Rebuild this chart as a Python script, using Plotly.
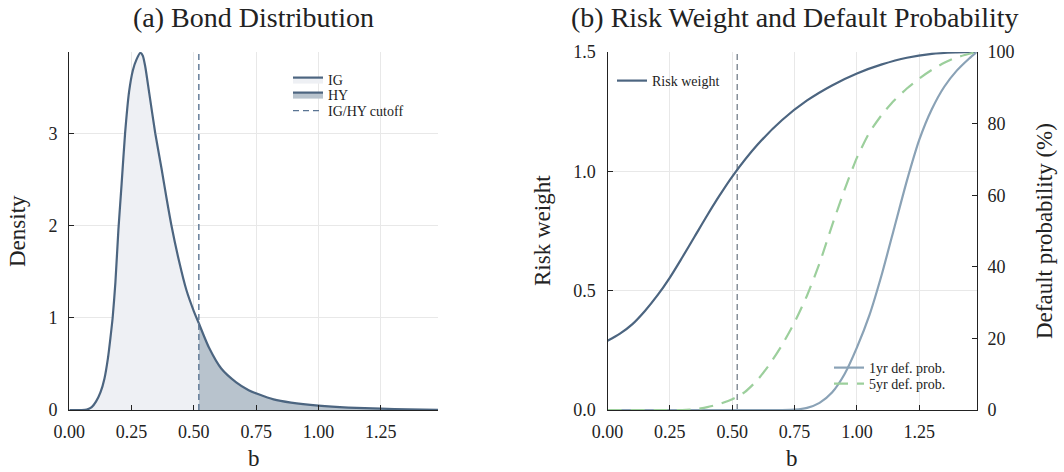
import plotly.graph_objects as go

# ---------------- data ----------------
cutoff = 0.52

bond_b = [0.0, 0.05, 0.07, 0.09, 0.107, 0.125, 0.141, 0.155, 0.165, 0.174, 0.185,
          0.197, 0.21, 0.224, 0.24, 0.255, 0.27, 0.285, 0.295, 0.305, 0.32, 0.345,
          0.37, 0.39, 0.41, 0.44, 0.47, 0.50, 0.52, 0.56, 0.61, 0.67, 0.72, 0.76,
          0.82, 0.89, 1.0, 1.12, 1.25, 1.36, 1.48]
bond_density = [0.0, 0.0, 0.005, 0.03, 0.09, 0.19, 0.34, 0.56, 0.78, 1.0, 1.38,
                1.95, 2.45, 3.0, 3.45, 3.68, 3.80, 3.87, 3.84, 3.72, 3.45, 3.0,
                2.62, 2.3, 2.0, 1.62, 1.3, 1.07, 0.94, 0.68, 0.45, 0.30, 0.215, 0.17,
                0.115, 0.08, 0.047, 0.026, 0.014, 0.007, 0.002]

rw_b = [0.0, 0.05, 0.1, 0.15, 0.2, 0.25, 0.3, 0.35, 0.4, 0.45, 0.5, 0.6, 0.7, 0.8,
        0.9, 1.0, 1.1, 1.2, 1.3, 1.4, 1.48]
risk_weight = [0.29, 0.32, 0.36, 0.415, 0.48, 0.555, 0.64, 0.728, 0.816, 0.9, 0.978,
               1.11, 1.215, 1.297, 1.36, 1.41, 1.448, 1.476, 1.492, 1.498, 1.5]

pd1_b = [0.0, 0.5, 0.7, 0.75, 0.8, 0.85, 0.9, 0.95, 1.0, 1.05, 1.1, 1.15, 1.2,
         1.25, 1.3, 1.35, 1.4, 1.45, 1.48]
pd1 = [0.0, 0.0, 0.0, 0.1, 0.6, 2.0, 4.9, 10.0, 17.5, 26.5, 38.0, 51.0, 64.0,
       75.5, 84.0, 90.3, 94.8, 98.2, 100.0]

pd5_b = [0.0, 0.3, 0.35, 0.4, 0.45, 0.5, 0.55, 0.6, 0.65, 0.7, 0.75, 0.8, 0.85, 0.9,
         0.95, 1.0, 1.05, 1.1, 1.15, 1.2, 1.25, 1.3, 1.35, 1.4, 1.48]
pd5 = [0.0, 0.0, 0.2, 0.8, 1.7, 3.0, 5.0, 8.3, 12.8, 18.2, 24.5, 32.0, 41.0, 51.5,
       61.5, 70.5, 77.5, 82.5, 86.5, 89.8, 92.6, 95.0, 97.0, 98.5, 100.0]

x_ticks = [0.0, 0.25, 0.5, 0.75, 1.0, 1.25]
x_ticklabels = ["0.00", "0.25", "0.50", "0.75", "1.00", "1.25"]
dens_ticks = [0, 1, 2, 3]
rw_ticks = [0.0, 0.5, 1.0, 1.5]
rw_ticklabels = ["0.0", "0.5", "1.0", "1.5"]
pd_ticks = [0, 20, 40, 60, 80, 100]

# ---------------- style ----------------
FONT = "Liberation Serif"
DARK = "#4c6580"
LIGHT = "#8aa2b6"
GREEN = "#9ccf9c"
IG_FILL = "#eef0f4"
HY_FILL = "#b8c3cd"
GRID = "#e8e8e8"
AX = "#222222"

ig_b = [b for b in bond_b if b <= cutoff]
ig_d = [d for b, d in zip(bond_b, bond_density) if b <= cutoff]
hy_b = [b for b in bond_b if b >= cutoff]
hy_d = [d for b, d in zip(bond_b, bond_density) if b >= cutoff]

fig = go.Figure()

fig.add_trace(go.Scatter(x=ig_b, y=ig_d, name="IG", mode="lines", fill="tozeroy",
                         fillcolor=IG_FILL, line=dict(color=DARK, width=2.2, shape="spline", smoothing=0.6),
                         xaxis="x", yaxis="y", legend="legend"))
fig.add_trace(go.Scatter(x=hy_b, y=hy_d, name="HY", mode="lines", fill="tozeroy",
                         fillcolor=HY_FILL, line=dict(color=DARK, width=2.2, shape="spline", smoothing=0.6),
                         xaxis="x", yaxis="y", legend="legend4"))
fig.add_trace(go.Scatter(x=[cutoff, cutoff], y=[0, 3.88], name="IG/HY cutoff", mode="lines",
                         line=dict(color="#5a7493", width=1.4, dash="6px,4px"),
                         xaxis="x", yaxis="y", legend="legend5"))

fig.add_trace(go.Scatter(x=[cutoff, cutoff], y=[0, 1.5], mode="lines", showlegend=False,
                         line=dict(color="#7d8791", width=1.4, dash="6px,4px"),
                         xaxis="x2", yaxis="y2"))
fig.add_trace(go.Scatter(x=rw_b, y=risk_weight, name="Risk weight", mode="lines",
                         line=dict(color=DARK, width=2.2, shape="spline", smoothing=0.8),
                         xaxis="x2", yaxis="y2", legend="legend2"))
fig.add_trace(go.Scatter(x=pd1_b, y=pd1, name="1yr def. prob.", mode="lines",
                         line=dict(color=LIGHT, width=2.2, shape="spline", smoothing=0.6),
                         xaxis="x2", yaxis="y3", legend="legend3"))
fig.add_trace(go.Scatter(x=pd5_b, y=pd5, name="5yr def. prob.", mode="lines",
                         line=dict(color=GREEN, width=2.2, dash="14px,9px", shape="spline", smoothing=0.6),
                         xaxis="x2", yaxis="y3", legend="legend6"))

ydom = [62 / 472, 420 / 472]
tickfont = dict(family=FONT, size=18, color=AX)
axis_common = dict(showline=True, linecolor=AX, linewidth=1.2, ticks="inside", ticklen=5,
                   tickcolor=AX, zeroline=False, automargin=False, tickfont=tickfont)
common_x = dict(range=[0, 1.48], tickvals=x_ticks, ticktext=x_ticklabels, showgrid=True,
                gridcolor=GRID, gridwidth=1, ticklabelstandoff=5, **axis_common)

leg_common = dict(bgcolor="rgba(0,0,0,0)", borderwidth=0, font=dict(family=FONT, size=14, color=AX),
                  xanchor="left", yanchor="middle", itemwidth=30, tracegroupgap=0)


def leg(x_px, y_px):
    return dict(x=x_px / 1064, y=1 - y_px / 472, **leg_common)


fig.update_layout(
    width=1064, height=472,
    margin=dict(l=0, r=0, t=0, b=0, autoexpand=False),
    paper_bgcolor="white", plot_bgcolor="white",
    font=dict(family=FONT, color=AX),
    xaxis=dict(domain=[69.3 / 1064, 438 / 1064], anchor="y", **common_x),
    yaxis=dict(domain=ydom, anchor="x", range=[0, 3.88], tickvals=dens_ticks,
               showgrid=True, gridcolor=GRID, ticklabelstandoff=7, **axis_common),
    xaxis2=dict(domain=[607.5 / 1064, 976.7 / 1064], anchor="y2", **common_x),
    yaxis2=dict(domain=ydom, anchor="x2", range=[0, 1.5], tickvals=rw_ticks, ticktext=rw_ticklabels,
                showgrid=True, gridcolor=GRID, ticklabelstandoff=7, **axis_common),
    yaxis3=dict(overlaying="y2", anchor="x2", side="right", range=[0, 100], tickvals=pd_ticks,
                showgrid=False, ticklabelstandoff=6, **axis_common),
    legend=leg(288, 80),
    legend4=leg(288, 95),
    legend5=leg(288, 111),
    legend2=leg(612, 81),
    legend3=leg(829, 368),
    legend6=leg(829, 384),
    showlegend=True,
)

annots = [
    dict(text="(a) Bond Distribution", x=253.6 / 1064, y=1 - 17 / 472, size=28),
    dict(text="(b) Risk Weight and Default Probability", x=795 / 1064, y=1 - 17 / 472, size=28),
    dict(text="b", x=253.6 / 1064, y=1 - 458 / 472, size=23),
    dict(text="b", x=792 / 1064, y=1 - 458 / 472, size=23),
    dict(text="Density", x=18 / 1064, y=1 - 231 / 472, size=23, angle=-90),
    dict(text="Risk weight", x=543 / 1064, y=1 - 231 / 472, size=23, angle=-90),
    dict(text="Default probability (%)", x=1045 / 1064, y=1 - 231 / 472, size=23, angle=-90),
]
for a in annots:
    fig.add_annotation(text=a["text"], x=a["x"], y=a["y"], xref="paper", yref="paper",
                       xanchor="center", yanchor="middle", showarrow=False,
                       textangle=a.get("angle", 0),
                       font=dict(family=FONT, size=a["size"], color=AX))

fig.write_html("out.html")
